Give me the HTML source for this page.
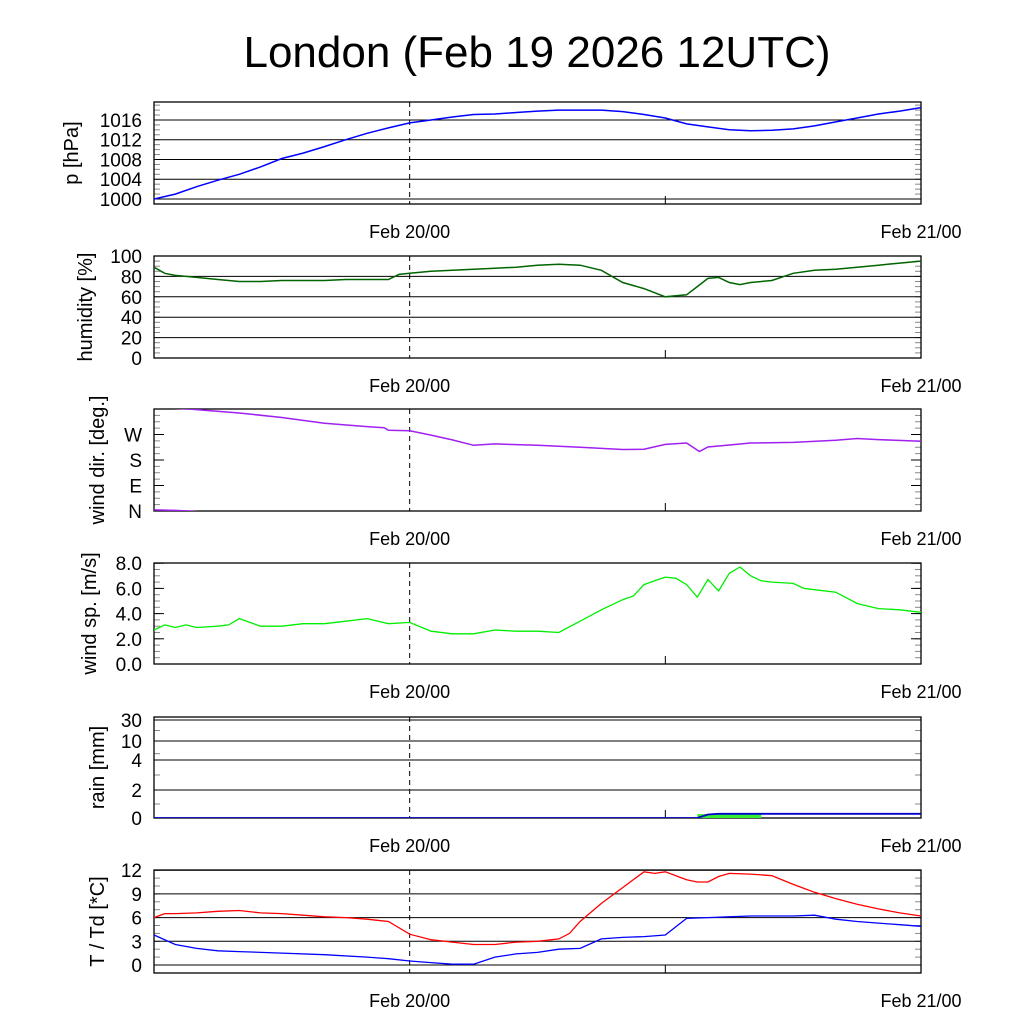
<!DOCTYPE html>
<html><head><meta charset="utf-8"><style>
body{margin:0;background:#fff}
svg text{font-family:"Liberation Sans",sans-serif;fill:#000}
</style></head><body>
<svg id="c" width="1024" height="1024" viewBox="0 0 1024 1024">
<text x="537" y="67" font-size="44" text-anchor="middle">London (Feb 19 2026 12UTC)</text>
</svg>
<script>
// ---- data (hours since Feb 19 12UTC) ----
const presT=[0,1,2,3,4,5,6,7,8,9,10,11,12,13,14,15,16,17,18,19,20,21,22,23,24,25,26,27,28,29,30,31,32,33,34,35,36];
const presV=[1000,1001,1002.5,1003.8,1005,1006.5,1008.2,1009.3,1010.6,1012,1013.3,1014.4,1015.4,1016,1016.6,1017.1,1017.2,1017.5,1017.8,1018,1018,1018,1017.7,1017.1,1016.4,1015.2,1014.6,1014,1013.8,1013.9,1014.2,1014.8,1015.6,1016.4,1017.2,1017.8,1018.5];
const humT=[0,0.5,1,2,3,4,5,6,7,8,9,10,11,11.5,12,13,14,15,16,17,18,19,20,21,22,23,24,25,25.5,26,26.5,27,27.5,28,29,30,31,32,33,34,35,36];
const humV=[89,83,81,79,77,75,75,76,76,76,77,77,77,82,83,85,86,87,88,89,91,92,91,86,74,68,60,62,70,78,79,74,72,74,76,83,86,87,89,91,93,95];
const dirT=[0,1,1.6,2,4,6,8,10,10.8,11,12,13,14,15,16,18,20,22,23,24,25,25.3,25.6,26,27,28,30,32,33,34,36];
const dirV=[364,362,360,358,346,330,310,298,294,285,283,268,251,232,237,232,225,217,218,235,240,225,210,226,233,240,242,250,256,252,246];
const wsT=[0,0.5,1,1.5,2,3,3.5,4,5,6,7,8,9,10,11,12,13,14,15,16,17,18,19,20,21,22,22.5,23,23.5,24,24.5,25,25.5,26,26.5,27,27.5,28,28.5,29,30,30.5,31,32,33,34,35,36];
const wsV=[2.7,3.1,2.9,3.1,2.9,3.0,3.1,3.6,3.0,3.0,3.2,3.2,3.4,3.6,3.2,3.3,2.6,2.4,2.4,2.7,2.6,2.6,2.5,3.4,4.3,5.1,5.4,6.3,6.6,6.9,6.8,6.3,5.3,6.7,5.8,7.2,7.7,7.0,6.6,6.5,6.4,6.0,5.9,5.7,4.8,4.4,4.3,4.1];
const rainT=[0,25.5,26,26.5,28.5,36];
const rainV=[0,0,0.25,0.3,0.3,0.3];
const rainRateT=[25.5,28.5];
const rainRateV=[0.28,0.28];
const tT=[0,0.5,1,2,3,4,5,6,7,8,9,10,11,12,13,14,15,16,17,18,19,19.5,20,21,22,23,23.5,24,25,25.5,26,26.5,27,28,29,30,31,32,33,34,35,36];
const tV=[6.0,6.5,6.5,6.6,6.8,6.9,6.6,6.5,6.3,6.1,6.0,5.8,5.5,3.9,3.2,2.9,2.6,2.6,2.9,3.0,3.3,4.0,5.5,7.8,9.8,11.8,11.6,11.8,10.8,10.5,10.5,11.2,11.6,11.5,11.3,10.2,9.2,8.4,7.7,7.1,6.6,6.2];
const tdT=[0,1,2,3,4,6,8,10,11,12,13,14,15,16,17,18,19,20,21,22,23,24,25,26,27,28,29,30,31,32,33,34,35,36];
const tdV=[3.8,2.6,2.1,1.8,1.7,1.5,1.3,1.0,0.8,0.5,0.3,0.1,0.1,1.0,1.4,1.6,2.0,2.1,3.3,3.5,3.6,3.8,5.9,6.0,6.1,6.2,6.2,6.2,6.3,5.8,5.5,5.3,5.1,4.9];
const pTicks=[1000,1004,1008,1012,1016];
const hTicks=[0,20,40,60,80,100];
const dTicks=[0,90,180,270];const dLabels=["N","E","S","W"];
const wTicks=[0,2,4,6,8];
const rTicks=[0,2,4,10,30];
const tTicks=[0,3,6,9,12];
const xLabelT=[12,36];const xLabels=["Feb 20/00","Feb 21/00"];

const NS="http://www.w3.org/2000/svg";
const svg=document.getElementById('c');
const X0=154,X1=921;
function x(h){return X0+(X1-X0)*h/36;}
function mk(tag,attrs,parent){const e=document.createElementNS(NS,tag);for(const k in attrs)e.setAttribute(k,attrs[k]);(parent||svg).appendChild(e);return e;}
function path(ts,vs,fy,off){return ts.map((t,i)=>(i?'L':'M')+x(t).toFixed(1)+','+fy(vs[i]-(off||0)).toFixed(1)).join('');}

function panel(o){
  const g=mk('g',{});
  
  
  const cid='clip-'+o.name;
  const cp=mk('clipPath',{id:cid},g);mk('rect',{x:X0,y:o.top,width:X1-X0,height:o.bot-o.top},cp);
  if(o.minor){o.minor.forEach(v=>{const yy=o.fy(v);mk('line',{x1:X0,x2:X0+6,y1:yy,y2:yy,stroke:'#888','stroke-width':1},g);mk('line',{x1:X1-6,x2:X1,y1:yy,y2:yy,stroke:'#888','stroke-width':1},g);});}
  o.ticks.forEach((v,i)=>{const yy=o.fy(v);
    if(o.grid)mk('line',{x1:X0,x2:X1,y1:yy,y2:yy,stroke:'#000','stroke-width':1},g);
    else{mk('line',{x1:X0,x2:X0+10,y1:yy,y2:yy,stroke:'#000'},g);mk('line',{x1:X1-10,x2:X1,y1:yy,y2:yy,stroke:'#000'},g);}
    const t=mk('text',{x:X0-12,y:yy+7,'font-size':19,'text-anchor':'end'},g);t.textContent=o.labels?o.labels[i]:o.fmt(v);
    
    
  });
  mk('line',{x1:x(12),x2:x(12),y1:o.top,y2:o.bot,stroke:'#000','stroke-dasharray':'5,4'},g);
  mk('line',{x1:x(24),x2:x(24),y1:o.bot-8,y2:o.bot,stroke:'#000'},g);
  mk('rect',{x:X0,y:o.top,width:X1-X0,height:o.bot-o.top,fill:'none',stroke:'#000','stroke-width':1.3},g);
  const yt=mk('text',{transform:`translate(${o.tx},${(o.top+o.bot)/2}) rotate(-90)`,'font-size':20,'text-anchor':'middle'},g);yt.textContent=o.title;
  
  
  xLabels.forEach((l,i)=>{const t=mk('text',{x:x(xLabelT[i]),y:o.bot+34,'font-size':18,'text-anchor':'middle'},g);t.textContent=l;
    
    });
  const sg=mk('g',{'clip-path':`url(#${cid})`},g);
  return sg;
}
function range(a,b,s){const r=[];for(let v=a;v<=b+1e-9;v+=s)r.push(v);return r;}

let fy=v=>199-(v-1000)*4.94;
let s=panel({name:'pressure',top:102,bot:204,fy,ticks:pTicks,grid:true,fmt:v=>v,title:'p [hPa]',tx:78,minor:range(999,1019,1)});
let e=mk('path',{d:path(presT,presV,fy),fill:'none',stroke:'#0000ff','stroke-width':1.5},s);

let fh=v=>358-v*1.02;
s=panel({name:'humidity',top:256,bot:358,fy:fh,ticks:hTicks,grid:true,fmt:v=>v,title:'humidity [%]',tx:92,minor:range(0,100,5)});
e=mk('path',{d:path(humT,humV,fh),fill:'none',stroke:'#006400','stroke-width':1.5},s);

let fd=v=>511-v*0.2833;
s=panel({name:'wind-dir',top:409,bot:511,fy:fd,ticks:dTicks,labels:dLabels,grid:false,title:'wind dir. [deg.]',tx:104,minor:range(0,360,22.5)});
e=mk('path',{d:path(dirT,dirV,fd),fill:'none',stroke:'#a020f0','stroke-width':1.5},s);

e=mk('path',{d:path(dirT,dirV,fd,360),fill:'none',stroke:'#a020f0','stroke-width':1.5},s);

let fw=v=>664-v*12.6;
s=panel({name:'wind-speed',top:563,bot:664,fy:fw,ticks:wTicks,grid:false,fmt:v=>v.toFixed(1),title:'wind sp. [m/s]',tx:96,minor:range(0,8,0.5)});
e=mk('path',{d:path(wsT,wsV,fw),fill:'none',stroke:'#00ee00','stroke-width':1.3},s);

const rv=[0,2,4,10,30],ry=[818,790,760,741,720];
let fr=v=>{for(let i=1;i<rv.length;i++)if(v<=rv[i])return ry[i-1]+(ry[i]-ry[i-1])*(v-rv[i-1])/(rv[i]-rv[i-1]);return 720;};
s=panel({name:'rain',top:717,bot:818,fy:fr,ticks:rTicks,grid:true,fmt:v=>v,title:'rain [mm]',tx:104,minor:[1,3,6,20]});
e=mk('rect',{x:x(rainRateT[0]),y:fr(rainRateV[0]),width:x(rainRateT[1])-x(rainRateT[0]),height:818-fr(rainRateV[0]),fill:'#33ee33'},s);

e=mk('path',{d:path(rainT,rainV,fr),fill:'none',stroke:'#0000cc','stroke-width':1.8},s);

let ft=v=>965-v*7.9;
s=panel({name:'temperature',top:870,bot:973,fy:ft,ticks:tTicks,grid:true,fmt:v=>v,title:'T / Td [*C]',tx:104,minor:range(-1,12,1)});
e=mk('path',{d:path(tT,tV,ft),fill:'none',stroke:'#ff0000','stroke-width':1.3},s);

e=mk('path',{d:path(tdT,tdV,ft),fill:'none',stroke:'#0000ff','stroke-width':1.3},s);

</script>
</body></html>
